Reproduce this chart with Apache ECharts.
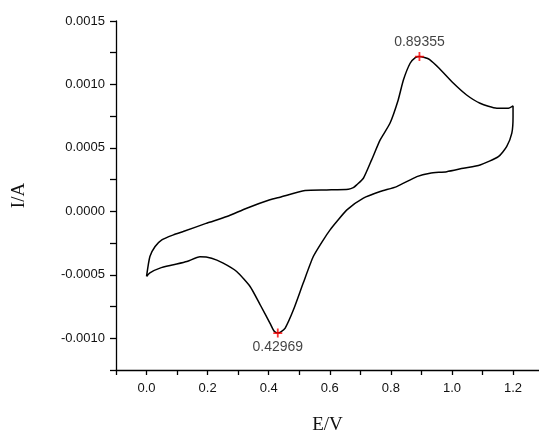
<!DOCTYPE html>
<html>
<head>
<meta charset="utf-8">
<script src="https://cdn.jsdelivr.net/npm/echarts@6/dist/echarts.min.js"></script>
<style>
  html, body { margin: 0; padding: 0; background: #fff; }
  #chart { width: 539px; height: 434px; }
</style>
</head>
<body>
<div id="chart"></div>
<script>
// forward scan 0 -> 1.2 V (E/V, I/A)
const forwardE = [0.000, 0.011, 0.028, 0.050, 0.088, 0.120, 0.197, 0.263, 0.328, 0.404, 0.437, 0.519, 0.590, 0.661, 0.677, 0.688, 0.710, 0.737, 0.765, 0.797, 0.824, 0.841, 0.863, 0.880, 0.89355, 0.910, 0.926, 0.958, 1.005, 1.048, 1.092, 1.147, 1.185, 1.200]
const forwardI = [-0.000513, -0.000356, -0.000277, -0.000224, -0.000185, -0.000159, -0.000093, -0.000041, 0.000025, 0.000091, 0.000112, 0.000164, 0.000169, 0.000175, 0.000187, 0.000209, 0.000261, 0.000406, 0.000563, 0.000694, 0.000878, 0.001035, 0.001167, 0.001212, 0.001220, 0.001212, 0.001198, 0.001128, 0.001009, 0.000917, 0.000852, 0.000813, 0.000813, 0.000831]

// reverse scan 1.2 -> 0 V
const reverseE = [1.200, 1.196, 1.179, 1.152, 1.092, 1.037, 0.983, 0.928, 0.885, 0.819, 0.765, 0.710, 0.656, 0.623, 0.601, 0.579, 0.546, 0.513, 0.481, 0.454, 0.440, 0.42969, 0.418, 0.404, 0.372, 0.339, 0.295, 0.251, 0.213, 0.175, 0.132, 0.088, 0.044, 0.011, 0.000]
const reverseI = [0.000746, 0.000616, 0.000510, 0.000431, 0.000366, 0.000340, 0.000313, 0.000301, 0.000274, 0.000195, 0.000156, 0.000104, 0.000012, -0.000080, -0.000146, -0.000224, -0.000356, -0.000565, -0.000776, -0.000920, -0.000950, -0.000959, -0.000945, -0.000880, -0.000736, -0.000592, -0.000474, -0.000408, -0.000369, -0.000358, -0.000395, -0.000421, -0.000447, -0.000484, -0.000513]

// marked peaks
const peakE = [0.89355, 0.42969]
const peakI = [0.001220, -0.000959]

const cvData = forwardE.map((e, i) => [e, forwardI[i]])
  .concat(reverseE.map((e, i) => [e, reverseI[i]]))

const isMultiple = (v, step) => Math.abs(Math.round(v / step) * step - v) < 1e-9

const chart = echarts.init(document.getElementById('chart'))

const option = {
  animation: false,
  grid: { left: 116, right: 0, top: 21, bottom: 64, outerBoundsMode: 'none' },
  xAxis: {
    type: 'value',
    min: -0.1,
    max: 1.285,
    interval: 0.1,
    name: 'E/V',
    nameLocation: 'middle',
    nameGap: 46,
    nameTextStyle: { fontFamily: 'Liberation Serif', fontSize: 19, color: '#111' },
    axisLine: { onZero: false, lineStyle: { color: '#000', width: 1.3 } },
    axisTick: { length: 5, lineStyle: { color: '#000', width: 1.3 } },
    axisLabel: {
      margin: 12,
      fontFamily: 'Liberation Sans',
      fontSize: 13,
      color: '#111',
      showMaxLabel: false,
      formatter: v => (v >= -1e-9 && isMultiple(v, 0.2)) ? v.toFixed(1) : ''
    },
    splitLine: { show: false }
  },
  yAxis: {
    type: 'value',
    min: -0.00125,
    max: 0.0015,
    interval: 0.00025,
    name: 'I/A',
    nameLocation: 'middle',
    nameGap: 87,
    nameTextStyle: { fontFamily: 'Liberation Serif', fontSize: 19, color: '#111' },
    axisLine: { onZero: false, lineStyle: { color: '#000', width: 1.3 } },
    axisTick: { length: 6, lineStyle: { color: '#000', width: 1.3 } },
    axisLabel: {
      margin: 11,
      fontFamily: 'Liberation Sans',
      fontSize: 13,
      color: '#111',
      formatter: v => isMultiple(v, 0.0005) ? (Math.abs(v) < 1e-9 ? '0.0000' : v.toFixed(4)) : ''
    },
    splitLine: { show: false }
  },
  series: [
    {
      type: 'line',
      data: cvData,
      showSymbol: false,
      smooth: 0.2,
      lineStyle: { color: '#000', width: 1.5 },
      z: 2
    },
    {
      type: 'scatter',
      data: peakE.map((e, i) => [e, peakI[i]]),
      symbol: 'path://M4,0h2v4h4v2h-4v4h-2v-4h-4v-2h4z',
      symbolSize: 9,
      itemStyle: { color: '#ff0000' },
      label: {
        show: true,
        fontFamily: 'Liberation Sans',
        fontSize: 14,
        color: '#111',
        formatter: p => p.value[0].toFixed(5),
        position: 'top',
        distance: 3
      },
      z: 3
    }
  ]
}

// the lower peak gets its label underneath
option.series[1].data[1] = {
  value: option.series[1].data[1],
  label: { position: 'bottom', distance: 3 }
}

chart.setOption(option)
</script>
</body>
</html>
